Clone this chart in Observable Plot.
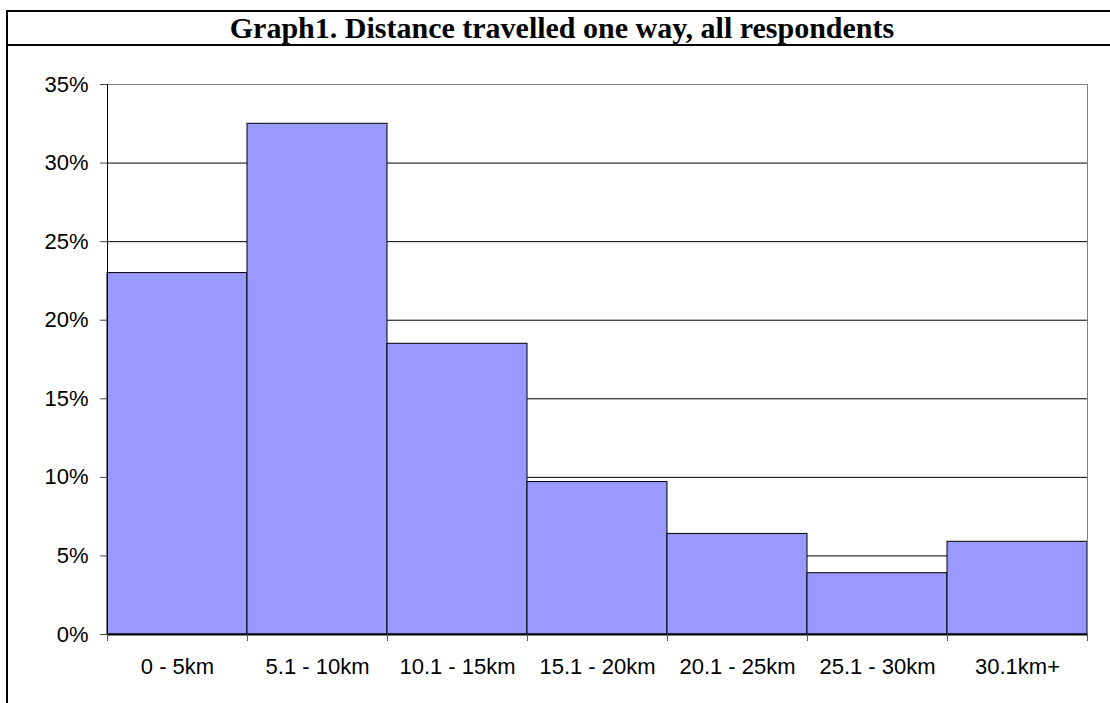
<!DOCTYPE html>
<html>
<head>
<meta charset="utf-8">
<script src="https://cdn.jsdelivr.net/npm/d3@7"></script>
<script src="https://cdn.jsdelivr.net/npm/@observablehq/plot@0.6"></script>
<style>
  html, body { margin: 0; padding: 0; background: #fff; overflow: hidden; }
  #page { position: relative; width: 1110px; height: 703px; }
  #frame {
    position: absolute; left: 6px; top: 10px; width: 1120px; height: 720px;
    border-left: 2px solid #000; border-top: 2px solid #000; box-sizing: border-box;
  }
  #title {
    position: absolute; left: 0; top: 0; width: 1108px; height: 32px;
    border-bottom: 2px solid #000;
    font-family: "Liberation Serif", "Times New Roman", serif; font-weight: bold;
    font-size: 30px; line-height: 32px; text-align: center; color: #000;
  }
  #chart { position: absolute; left: 0; top: 0; }
</style>
</head>
<body>
<div id="page">
  <div id="chart"></div>
  <div id="frame"><div id="title">Graph1. Distance travelled one way, all respondents</div></div>
</div>
<script>
const categories = ["0 - 5km", "5.1 - 10km", "10.1 - 15km", "15.1 - 20km", "20.1 - 25km", "25.1 - 30km", "30.1km+"];
const shares = [0.23, 0.325, 0.185, 0.097, 0.064, 0.039, 0.059];
const yTicks = [0, 0.05, 0.10, 0.15, 0.20, 0.25, 0.30, 0.35];
const yTickLabels = ["0%", "5%", "10%", "15%", "20%", "25%", "30%", "35%"];

const data = categories.map((c, i) => ({category: c, index: i, value: shares[i]}));
const bounds = d3.range(categories.length + 1);
const centers = categories.map((c, i) => i + 0.5);

const chart = Plot.plot({
  width: 1110,
  height: 703,
  marginLeft: 107,
  marginRight: 23,
  marginTop: 84,
  marginBottom: 69,
  style: {fontFamily: "'Liberation Sans', Arial, sans-serif", background: "transparent"},
  x: {domain: [0, categories.length], axis: null, label: null},
  y: {domain: [0, 0.35], axis: null, label: null},
  marks: [
    Plot.ruleY(yTicks.filter(t => t > 0 && t < 0.35), {stroke: "#000", strokeWidth: 1}),
    Plot.rectY(data, {x1: "index", x2: d => d.index + 1, y: "value", fill: "#9999ff", stroke: "#000", strokeWidth: 1}),
    Plot.frame({stroke: "#808080", strokeWidth: 1}),
    Plot.ruleX([0], {stroke: "#000", strokeWidth: 1}),
    Plot.ruleY([0], {stroke: "#000", strokeWidth: 2}),
    Plot.axisY(yTicks, {
      anchor: "left", tickSize: 7, tickPadding: 12, stroke: "#444", label: null,
      tickFormat: d => yTickLabels[yTicks.indexOf(d)], fontSize: 22, fill: "#000"
    }),
    Plot.axisX(bounds, {anchor: "bottom", tickSize: 7, stroke: "#555", label: null, tickFormat: () => null}),
    Plot.axisX(centers, {
      anchor: "bottom", tickSize: 0, tickPadding: 24, label: null,
      tickFormat: d => categories[Math.floor(d)], fontSize: 22, fill: "#000"
    })
  ]
});
document.getElementById("chart").appendChild(chart);
</script>
</body>
</html>
